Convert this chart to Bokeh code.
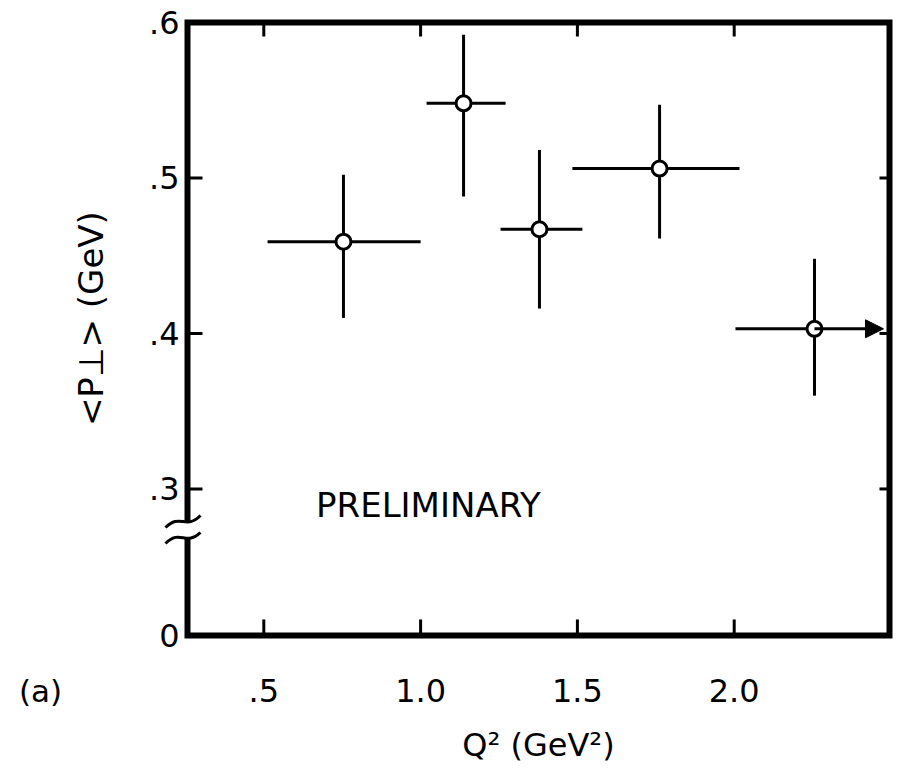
import math
from bokeh.plotting import figure
from bokeh.models import Range1d, Arrow, NormalHead, ColumnDataSource
from bokeh.core.properties import value
from bokeh.embed import file_html
from bokeh.resources import INLINE

# ---- data ----
q2 = [0.754, 1.137, 1.379, 1.762, 2.256]
q2_lo = [0.512, 1.019, 1.255, 1.484, 2.004]
q2_hi = [1.000, 1.271, 1.516, 2.017, 2.476]
open_ended = [False, False, False, False, True]   # last bin extends beyond (arrow)
pt = [0.459, 0.548, 0.467, 0.506, 0.403]
pt_lo = [0.410, 0.488, 0.416, 0.461, 0.360]
pt_hi = [0.502, 0.592, 0.518, 0.547, 0.448]

x_ticks = [0.5, 1.0, 1.5, 2.0]
x_tick_labels = [".5", "1.0", "1.5", "2.0"]
y_zero_pos = 0.2058          # where the suppressed-zero "0" sits below the axis break
y_ticks = [y_zero_pos, 0.3, 0.4, 0.5, 0.6]
y_tick_labels = ["0", ".3", ".4", ".5", ".6"]
left_ticks = [0.3, 0.4, 0.5]
right_ticks = [0.3, 0.4, 0.5]

x_title = "Q² (GeV²)"
y_title = "<P⊥>  (GeV)"
note = "PRELIMINARY"
panel = "(a)"

FONT = value("DejaVu Sans")

# ---- frame geometry (data units) ----
x_left, x_right = 0.2567, 2.4952
y_top = 0.6
brk_lo, brk_hi = 0.2688, 0.2792

p = figure(width=898, height=776, output_backend="svg", toolbar_location=None,
           x_range=Range1d(-0.3396, 2.5239), y_range=Range1d(0.1151, 0.6141),
           x_axis_location=None, y_axis_location=None, min_border=0)
p.grid.visible = False
p.outline_line_color = None
p.background_fill_color = "white"
p.border_fill_color = "white"

# frame with a break in the left edge
p.line([x_left, x_left, x_right, x_right, x_left, x_left],
       [brk_lo, y_zero_pos, y_zero_pos, y_top, y_top, brk_hi],
       line_color="black", line_width=6, line_join="miter")

# axis-break marks
p.bezier(x0=[0.1866, 0.1866], y0=[0.2752, 0.2649],
         x1=[0.2982, 0.2982], y1=[0.2829, 0.2720],
         cx0=[0.2344, 0.2344], cy0=[0.2848, 0.2746],
         cx1=[0.2504, 0.2504], cy1=[0.2733, 0.2630],
         line_color="black", line_width=3)

# inward tick marks
p.ray(x=[x_left] * len(left_ticks), y=left_ticks, length=15, length_units="screen",
      angle=0, line_color="black", line_width=3)
p.ray(x=[x_right] * len(right_ticks), y=right_ticks, length=10, length_units="screen",
      angle=math.pi, line_color="black", line_width=3)
p.ray(x=x_ticks, y=[y_zero_pos] * len(x_ticks), length=16, length_units="screen",
      angle=math.pi / 2, line_color="black", line_width=3)
p.ray(x=x_ticks, y=[y_top] * len(x_ticks), length=14, length_units="screen",
      angle=-math.pi / 2, line_color="black", line_width=3)

# tick labels
p.text(x=[x_left] * len(y_ticks), y=y_ticks, text=y_tick_labels, x_offset=-8,
       text_align="right", text_baseline="middle", text_font=FONT,
       text_font_size="32px", text_color="black")
p.text(x=x_ticks, y=[y_zero_pos] * len(x_ticks), text=x_tick_labels, y_offset=55,
       text_align="center", text_baseline="middle", text_font=FONT,
       text_font_size="32px", text_color="black")

# axis titles
p.text(x=[(x_left + x_right) / 2], y=[y_zero_pos], text=[x_title], y_offset=110,
       text_align="center", text_baseline="middle", text_font=FONT,
       text_font_size="32px", text_color="black")
p.text(x=[x_left], y=[0.413], text=[y_title], x_offset=-97, angle=math.pi / 2,
       text_align="center", text_baseline="middle", text_font=FONT,
       text_font_size="34px", text_color="black")

# error bars
closed = [i for i, o in enumerate(open_ended) if not o]
opened = [i for i, o in enumerate(open_ended) if o]
p.segment(x0=[q2_lo[i] for i in closed], y0=[pt[i] for i in closed],
          x1=[q2_hi[i] for i in closed], y1=[pt[i] for i in closed],
          line_color="black", line_width=3)
p.segment(x0=[q2_lo[i] for i in opened], y0=[pt[i] for i in opened],
          x1=[q2[i] for i in opened], y1=[pt[i] for i in opened],
          line_color="black", line_width=3)
p.segment(x0=q2, y0=pt_lo, x1=q2, y1=pt_hi, line_color="black", line_width=3)

arrow_src = ColumnDataSource(dict(xs=[q2[i] for i in opened], ys=[pt[i] for i in opened],
                                  xe=[q2_hi[i] for i in opened], ye=[pt[i] for i in opened]))
p.add_layout(Arrow(source=arrow_src, x_start="xs", y_start="ys", x_end="xe", y_end="ye",
                   line_color="black", line_width=3,
                   end=NormalHead(size=18, fill_color="black", line_color="black", line_width=1)))

p.scatter(q2, pt, size=15, marker="circle", fill_color="white",
          line_color="black", line_width=3)

p.text(x=[1.025], y=[0.29], text=[note], text_align="center", text_baseline="middle",
       text_font=FONT, text_font_size="34px", text_color="black")
p.text(x=[-0.212], y=[0.1704], text=[panel], text_align="center", text_baseline="middle",
       text_font=FONT, text_font_size="31px", text_color="black")

open("out.html", "w").write(file_html(p, INLINE))
